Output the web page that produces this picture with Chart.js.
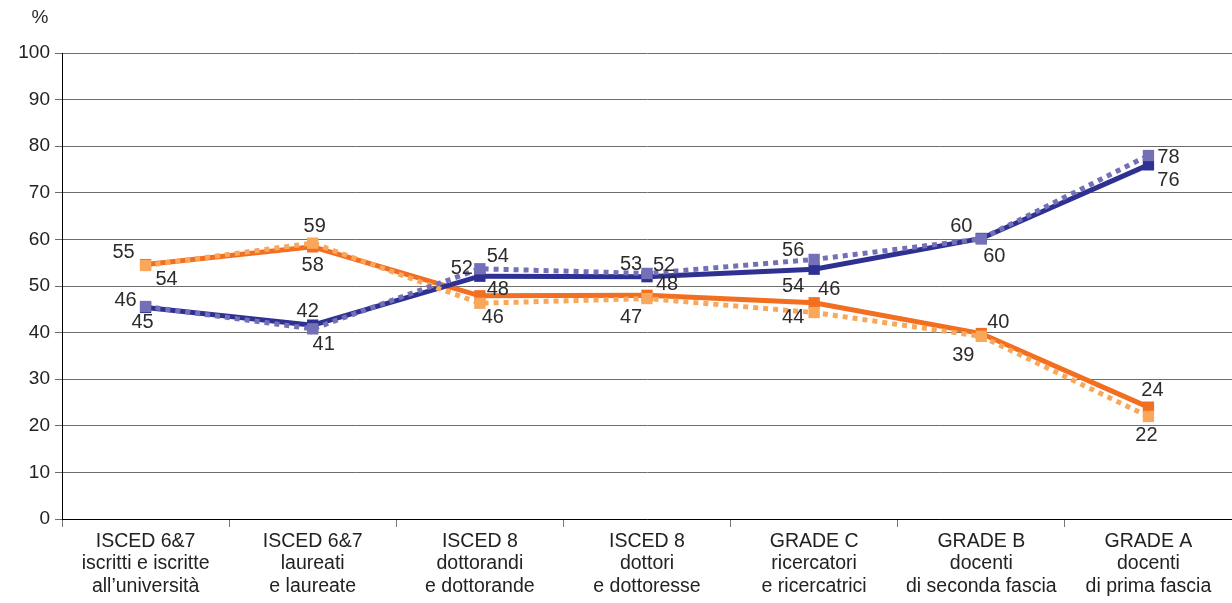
<!DOCTYPE html>
<html lang="it">
<head>
<meta charset="UTF-8">
<script src="https://cdn.jsdelivr.net/npm/chart.js"></script>
<title>Forbice carriere</title>
<style>
  html, body { margin: 0; padding: 0; background: #fff; }
  #wrap { width: 1232px; height: 603px; }
</style>
</head>
<body>
<div id="wrap"><canvas id="chart" width="1232" height="603"></canvas></div>
<script>
// categorie (tre righe ciascuna)
const categories = [
  ['ISCED 6&7', 'iscritti e iscritte', 'all\u2019università'],
  ['ISCED 6&7', 'laureati', 'e laureate'],
  ['ISCED 8', 'dottorandi', 'e dottorande'],
  ['ISCED 8', 'dottori', 'e dottoresse'],
  ['GRADE C', 'ricercatori', 'e ricercatrici'],
  ['GRADE B', 'docenti', 'di seconda fascia'],
  ['GRADE A', 'docenti', 'di prima fascia']
];

// valori in %
const donneA = [54.6, 58.4, 47.9, 48.0, 46.4, 39.8, 24.0];   // arancio pieno
const donneB = [54.4, 59.2, 46.3, 47.3, 44.3, 39.2, 22.0];   // arancio punteggiato
const uominiA = [45.4, 41.6, 52.1, 52.0, 53.6, 60.2, 76.0];  // blu pieno
const uominiB = [45.6, 40.8, 53.7, 52.7, 55.7, 60.1, 78.0];  // viola punteggiato

const yTicks = [0, 10, 20, 30, 40, 50, 60, 70, 80, 90, 100];

// spostamento delle etichette rispetto al marker [dx, dy]
const labelOffsets = [
  [[-22, -12], [0, 19], [18, -6], [20, -11], [15, -13], [17, -11], [4, -17]],
  [[21, 14], [2, -17], [13, 14], [-16, 19], [-21, 5], [-18, 19], [-2, 19]],
  [[-3, 15], [-5, -14], [-18, -8], [17, -11], [-21, 17], [13, 18], [20, 16]],
  [[-20, -6], [11, 16], [18, -12], [-16, -9], [-21, -9], [-20, -12], [20, 2]]
];

const FONT = '"Liberation Sans", Arial, Helvetica, sans-serif';

const valueLabels = {
  id: 'valueLabels',
  afterDatasetsDraw(chart) {
    const ctx = chart.ctx;
    ctx.save();
    ctx.font = '20px ' + FONT;
    ctx.fillStyle = '#2b2b2b';
    ctx.textAlign = 'center';
    ctx.textBaseline = 'middle';
    chart.data.datasets.forEach((ds, i) => {
      const meta = chart.getDatasetMeta(i);
      meta.data.forEach((pt, j) => {
        const off = labelOffsets[i][j];
        ctx.fillText(String(Math.round(ds.data[j])), pt.x + off[0], pt.y + off[1]);
      });
    });
    // unità asse y
    ctx.font = '19px ' + FONT;
    ctx.fillText('%', 40, 18);
    ctx.restore();
  }
};

new Chart(document.getElementById('chart'), {
  type: 'line',
  data: {
    labels: categories,
    datasets: [
      {
        data: donneA, borderColor: '#f26f21', backgroundColor: '#f26f21',
        borderWidth: 5, pointStyle: 'rect', pointRadius: 8, pointBorderWidth: 0, order: 4
      },
      {
        data: donneB, borderColor: '#f9a85b', backgroundColor: '#f9a85b',
        borderWidth: 5, borderDash: [5, 5], pointStyle: 'rect', pointRadius: 8, pointBorderWidth: 0, order: 2
      },
      {
        data: uominiA, borderColor: '#2e3192', backgroundColor: '#2e3192',
        borderWidth: 5, pointStyle: 'rect', pointRadius: 8, pointBorderWidth: 0, order: 3
      },
      {
        data: uominiB, borderColor: '#7470b8', backgroundColor: '#7470b8',
        borderWidth: 5, borderDash: [5, 5], pointStyle: 'rect', pointRadius: 8, pointBorderWidth: 0, order: 1
      }
    ]
  },
  options: {
    responsive: false,
    animation: false,
    layout: { autoPadding: false, padding: { top: 53, left: 0, right: 0, bottom: 0 } },
    elements: { line: { tension: 0, borderCapStyle: 'butt' } },
    plugins: { legend: { display: false }, tooltip: { enabled: false } },
    scales: {
      x: {
        offset: true,
        grid: { offset: true, drawOnChartArea: false, drawTicks: true, tickLength: 8, color: '#777' },
        border: { color: '#000', width: 1 },
        ticks: {
          color: '#222', autoSkip: false, maxRotation: 0, padding: 3,
          font: { size: 19.5, family: FONT, lineHeight: 1.16 }
        },
        afterFit(scale) { scale.height = 84; }
      },
      y: {
        min: 0, max: 100,
        afterBuildTicks(scale) { scale.ticks = yTicks.map(v => ({ value: v })); },
        grid: { color: '#6e6e6e', tickLength: 7, lineWidth: 1 },
        border: { color: '#000', width: 1 },
        ticks: { color: '#222', padding: 5, font: { size: 19, family: FONT } },
        afterFit(scale) { scale.width = 62; }
      }
    }
  },
  plugins: [valueLabels]
});
</script>
</body>
</html>
